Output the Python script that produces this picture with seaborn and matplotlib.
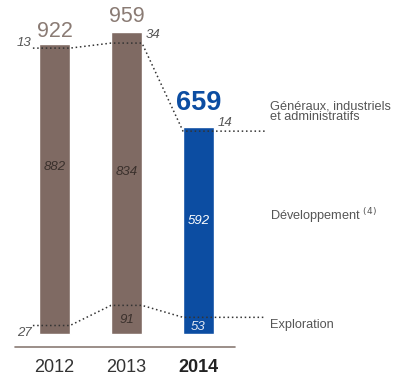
import matplotlib
matplotlib.use("Agg")
import matplotlib.pyplot as plt
import seaborn as sns
import pandas as pd
import numpy as np

years = ["2012", "2013", "2014"]
exploration = [27, 91, 53]
developpement = [882, 834, 592]
generaux = [13, 34, 14]
totals = [922, 959, 659]
categories = ["Généraux, industriels\net administratifs", "Développement $^{(4)}$", "Exploration"]

sns.set_theme(style="white")
plt.rcParams['font.family'] = ['Liberation Sans', 'DejaVu Sans']

BROWN = "#7f6a63"
BLUE = "#0c4da2"
TXT = "#8a7b74"

df = pd.DataFrame({"year": years, "total": totals})
fig = plt.figure(figsize=(3.98, 3.78), dpi=100)
ax = fig.add_axes([0, 0, 1, 1])
sns.barplot(data=df, x="year", y="total", hue="year", palette=[BROWN, BROWN, BLUE],
            width=0.43, legend=False, ax=ax, saturation=1)

ax.set_xlim(-0.757, 4.771)
ax.set_ylim(-139.9, 1062)
ax.axis("off")

expl = np.array(exploration)
top = expl + np.array(developpement)
hw = 0.215
x = np.arange(3)

def dotted(levels):
    xs = [-0.30]
    ys = [levels[0]]
    for i, lv in enumerate(levels):
        xs += [x[i] - hw, x[i] + hw]
        ys += [lv, lv]
    xs.append(2.92)
    ys.append(levels[-1])
    ax.plot(xs, ys, linestyle=(0, (1, 1.8)), color="#333333", lw=1.1, zorder=5)

dotted(top)
dotted(expl)

# totals
ax.text(0, 963, str(totals[0]), ha="center", va="center", fontsize=15.5, color=TXT)
ax.text(1, 1008, str(totals[1]), ha="center", va="center", fontsize=15.5, color=TXT)
ax.text(2, 734, str(totals[2]), ha="center", va="center", fontsize=19.5, color=BLUE, fontweight="bold")

small = dict(fontsize=9.5, style="italic")
ax.text(-0.32, 925, str(generaux[0]), ha="right", va="center", color="#555555", **small)
ax.text(1 + hw + 0.05, 951, str(generaux[1]), ha="left", va="center", color="#555555", **small)
ax.text(2 + hw + 0.05, 671, str(generaux[2]), ha="left", va="center", color="#555555", **small)
ax.text(0, 531, str(developpement[0]), ha="center", va="center", color="#3a302c", **small)
ax.text(1, 515, str(developpement[1]), ha="center", va="center", color="#3a302c", **small)
ax.text(2, 359, str(developpement[2]), ha="center", va="center", color="white", **small)
ax.text(-0.32, 3, str(exploration[0]), ha="right", va="center", color="#555555", **small)
ax.text(1, 45, str(exploration[1]), ha="center", va="center", color="#3a302c", **small)
ax.text(2, 22, str(exploration[2]), ha="center", va="center", color="#dfe6f2", **small)

lab = dict(fontsize=9.2, color="#555555", ha="left", va="center", linespacing=0.85)
ax.text(2.99, 706, categories[0], **lab)
ax.text(2.99, 378, categories[1], **lab)
ax.text(2.99, 29, categories[2], **lab)

ax.plot([-0.55, 2.51], [-41.3, -41.3], color=TXT, lw=1.2)
for i, y in enumerate(years):
    ax.text(i, -105, y, ha="center", va="center", fontsize=13,
            color="#222222" if i == 2 else "#333333",
            fontweight="bold" if i == 2 else "normal")

fig.savefig("out.png", dpi=100)
